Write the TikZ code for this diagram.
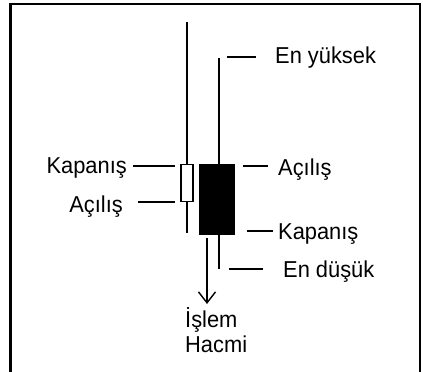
\documentclass[tikz,border=0pt]{standalone}
\usepackage{fontspec}
\setmainfont[FakeStretch=0.95]{Liberation Sans}
\usetikzlibrary{arrows.meta}
\begin{document}
\begin{tikzpicture}[x=1pt,y=-1pt,
  lbl/.style={inner sep=0pt,font=\fontsize{23}{25}\selectfont},
  tick/.style={line width=1.8pt},
  wick/.style={line width=2pt},
  frameline/.style={line width=2.4pt}]
\useasboundingbox (0,0) rectangle (423,372);
% frame
\draw[frameline] (10.5,375) -- (10.5,4) -- (420,4) -- (420,375);
% left (white) candle
\draw[wick] (187,22) -- (187,233);
\draw[line width=1.8pt,fill=white] (181,164.5) rectangle (193,201.5);
% right (black) candle
\draw[wick] (219,58) -- (219,269);
\draw[line width=1pt,fill=black] (199.5,164) rectangle (234,234);
% labels
\node[lbl,anchor=base west] (enyuksek) at (275,63) {En yüksek};
\node[lbl,anchor=base west] (acilisR) at (278,175) {Açılış};
\node[lbl,anchor=base west] (kapanisR) at (278,239) {Kapanış};
\node[lbl,anchor=base west] (endusuk) at (283,277) {En düşük};
\node[lbl,anchor=base east] (kapanisL) at (127,173) {Kapanış};
\node[lbl,anchor=base east] (acilisL) at (123,212) {Açılış};
\node[lbl,anchor=base west,align=left] (islem) at (185,352) {İşlem\\Hacmi};
% ticks
\coordinate (t1a) at (227,57); \coordinate (t1b) at (256,57);
\coordinate (t2a) at (243,166); \coordinate (t2b) at (268,166);
\coordinate (t3a) at (247,231); \coordinate (t3b) at (273,231);
\coordinate (t4a) at (229,269); \coordinate (t4b) at (263,269);
\coordinate (t5a) at (133,166); \coordinate (t5b) at (175,166);
\coordinate (t6a) at (138,202); \coordinate (t6b) at (175,202);
\draw[tick] (t1a) -- (t1b);
\draw[tick] (t2a) -- (t2b);
\draw[tick] (t3a) -- (t3b);
\draw[tick] (t4a) -- (t4b);
\draw[tick] (t5a) -- (t5b);
\draw[tick] (t6a) -- (t6b);
% volume arrow
\coordinate (arrtop) at (207,238);
\draw[line width=1.6pt,-{Straight Barb[length=11pt,width=17pt,line width=1.4pt]}] (arrtop) -- (207,304);
\end{tikzpicture}
\end{document}
